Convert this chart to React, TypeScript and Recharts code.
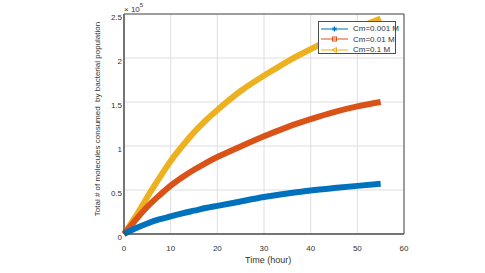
import React from 'react';
import { LineChart, Line, XAxis, YAxis, CartesianGrid, ReferenceArea } from 'recharts';

const times = [0, 2.5, 5, 7.5, 10, 12.5, 15, 17.5, 20, 25, 30, 35, 40, 45, 50, 55];
const cm0001 = [0, 0.065, 0.12, 0.165, 0.2, 0.235, 0.265, 0.295, 0.32, 0.37, 0.42, 0.46, 0.495, 0.522, 0.547, 0.57];
const cm001 = [0, 0.16, 0.31, 0.435, 0.55, 0.645, 0.73, 0.805, 0.875, 0.995, 1.11, 1.215, 1.305, 1.385, 1.45, 1.5];
const cm01 = [0, 0.2, 0.42, 0.63, 0.83, 1.0, 1.155, 1.29, 1.41, 1.625, 1.8, 1.96, 2.1, 2.23, 2.34, 2.45];
const xTicks = [0, 10, 20, 30, 40, 50, 60];
const yTicks = [0, 0.5, 1, 1.5, 2, 2.5];

const seriesNames = ['Cm=0.001 M', 'Cm=0.01 M', 'Cm=0.1 M'];
const colors = ['#0072BD', '#D95319', '#EDB120'];

const data = times.map((t, i) => ({ t, a: cm0001[i], b: cm001[i], c: cm01[i] }));

const font = '"Liberation Sans", Arial, Helvetica, sans-serif';
const axisColor = '#4d4d4d';
const textColor = '#333333';

function Marker({ kind, color }: { kind: number; color: string }) {
  if (kind === 0) {
    return (
      <g stroke={color} strokeWidth={1}>
        <line x1={10.5} y1={1.5} x2={10.5} y2={6.5} />
        <line x1={8} y1={4} x2={13} y2={4} />
        <line x1={8.7} y1={2.2} x2={12.3} y2={5.8} />
        <line x1={12.3} y1={2.2} x2={8.7} y2={5.8} />
      </g>
    );
  }
  if (kind === 1) {
    return <rect x={8.5} y={2} width={4} height={4} fill="none" stroke={color} strokeWidth={1} />;
  }
  return <polygon points="8,4 12.5,1.5 12.5,6.5" fill="none" stroke={color} strokeWidth={1} />;
}

export default function App() {
  return (
    <div style={{ position: 'absolute', left: 0, top: 0, width: 485, height: 273, background: '#fff', fontFamily: font }}>
      <LineChart width={485} height={273} data={data} margin={{ top: 14, right: 81, bottom: 19, left: 94 }}>
        <CartesianGrid stroke="#dedede" strokeWidth={1} />
        <XAxis
          dataKey="t"
          type="number"
          domain={[0, 60]}
          ticks={xTicks}
          height={20}
          tickLine={false}
          tickSize={4}
          tickMargin={7}
          axisLine={{ stroke: axisColor }}
          tick={{ fontSize: 8, fill: textColor, fontFamily: font }}
          interval={0}
        />
        <YAxis
          type="number"
          domain={[0, 2.5]}
          ticks={yTicks}
          width={30}
          tickLine={false}
          tickSize={1}
          tickMargin={1}
          axisLine={{ stroke: axisColor }}
          tick={{ fontSize: 8, fill: textColor, fontFamily: font, dy: 3 }}
          interval={0}
        />
        <ReferenceArea x1={0} x2={60} y1={0} y2={2.5} fill="none" stroke={axisColor} strokeWidth={1} />
        <Line dataKey="c" type="natural" stroke={colors[2]} strokeWidth={6} dot={false} isAnimationActive={false} />
        <Line dataKey="b" type="natural" stroke={colors[1]} strokeWidth={6} dot={false} isAnimationActive={false} />
        <Line dataKey="a" type="natural" stroke={colors[0]} strokeWidth={6} dot={false} isAnimationActive={false} />
      </LineChart>
      <div style={{ position: 'absolute', left: 124, top: 3, fontSize: 8, color: textColor, whiteSpace: 'nowrap' }}>
        × 10<sup style={{ fontSize: 6, position: 'relative', top: -1 }}>5</sup>
      </div>
      <div
        style={{
          position: 'absolute',
          left: 97,
          top: 119,
          transform: 'translate(-50%, -50%) rotate(-90deg)',
          fontSize: 8,
          color: textColor,
          whiteSpace: 'pre',
        }}
      >
        {'Total # of molecules consumed  by bacterial population'}
      </div>
      <div style={{ position: 'absolute', left: 245, top: 255, fontSize: 9, color: textColor, whiteSpace: 'nowrap' }}>
        Time (hour)
      </div>
      <div
        style={{
          position: 'absolute',
          left: 318,
          top: 21,
          width: 78,
          height: 33,
          border: `1px solid ${axisColor}`,
          background: '#fff',
          boxSizing: 'border-box',
        }}
      >
        {seriesNames.map((n, i) => (
          <div key={n} style={{ position: 'absolute', left: 1, top: 2 + i * 10.5, height: 9, display: 'flex', alignItems: 'center' }}>
            <svg width={30} height={8}>
              <line x1={1} y1={4} x2={28} y2={4} stroke={colors[i]} strokeWidth={1} />
              <g transform="translate(4,0)">
                <Marker kind={i} color={colors[i]} />
              </g>
            </svg>
            <span style={{ fontSize: 8, color: textColor, marginLeft: 3, whiteSpace: 'nowrap' }}>{n}</span>
          </div>
        ))}
      </div>
    </div>
  );
}
